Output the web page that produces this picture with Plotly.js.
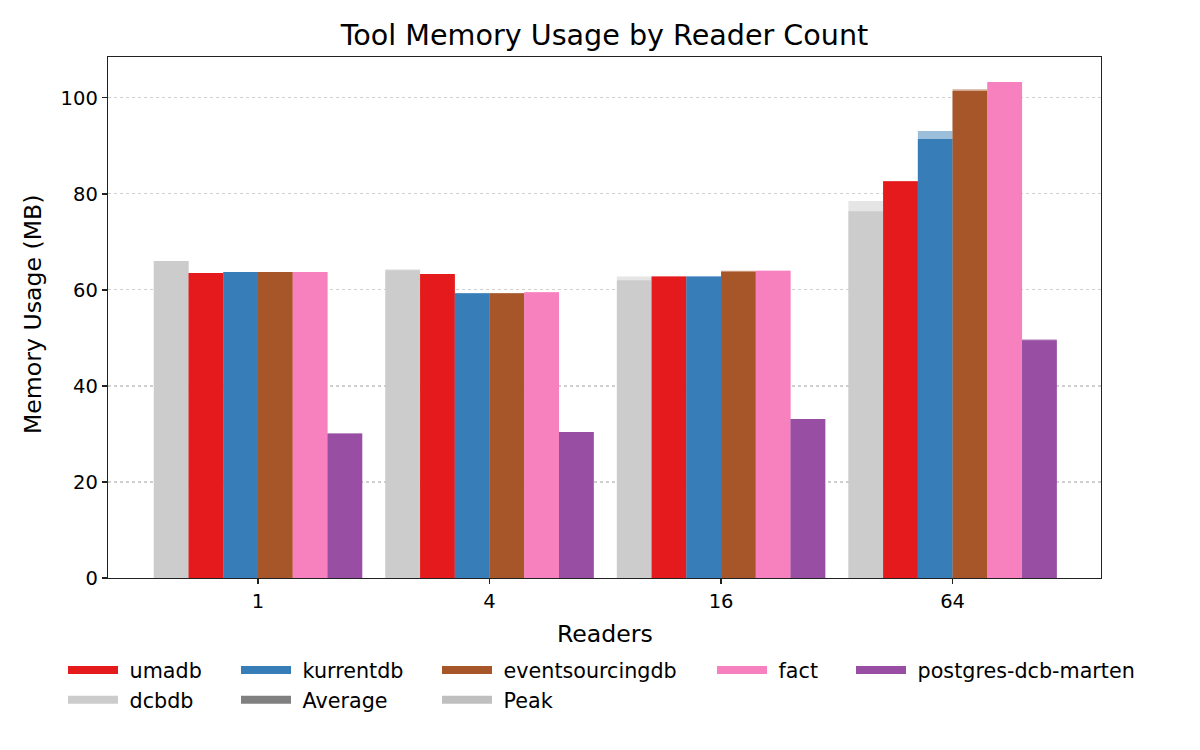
<!DOCTYPE html>
<html>
<head>
<meta charset="utf-8">
<script src="https://cdn.plot.ly/plotly-3.0.1.min.js"></script>
<style>
  body { margin: 0; background: #fff; }
  #chart { width: 1200px; height: 750px; }
</style>
</head>
<body>
<div id="chart"></div>
<script>
// Reader counts (x categories)
const readers = ["1", "4", "16", "64"];

// Tools, in bar order inside each group
const tools = ["dcbdb", "umadb", "kurrentdb", "eventsourcingdb", "fact", "postgres-dcb-marten"];
const toolColors = ["#cccccc", "#e41a1c", "#377eb8", "#a65628", "#f781bf", "#984ea3"];

// Memory usage in MB: average and peak per reader count
const dcbdbAvg = [66.0, 64.1, 62.0, 76.4];
const dcbdbPeak = [66.0, 64.3, 62.8, 78.5];
const umadbAvg = [63.5, 63.3, 62.8, 82.6];
const umadbPeak = [63.5, 63.3, 62.8, 82.6];
const kurrentdbAvg = [63.7, 59.3, 62.8, 91.4];
const kurrentdbPeak = [63.7, 59.3, 62.8, 93.1];
const eventsourcingdbAvg = [63.7, 59.3, 63.8, 101.4];
const eventsourcingdbPeak = [63.7, 59.3, 64.0, 101.8];
const factAvg = [63.7, 59.5, 64.0, 103.3];
const factPeak = [63.7, 59.5, 64.0, 103.3];
const postgresAvg = [30.1, 30.4, 33.1, 49.5];
const postgresPeak = [30.1, 30.4, 33.1, 49.7];

const avgValues = [dcbdbAvg, umadbAvg, kurrentdbAvg, eventsourcingdbAvg, factAvg, postgresAvg];
const peakValues = [dcbdbPeak, umadbPeak, kurrentdbPeak, eventsourcingdbPeak, factPeak, postgresPeak];

// Legend layout like matplotlib's 5 columns: one small legend per column
const legendColumns = [
  ["umadb", "dcbdb"],
  ["kurrentdb", "Average"],
  ["eventsourcingdb", "Peak"],
  ["fact"],
  ["postgres-dcb-marten"]
];
const legendX = [63, 236, 437, 712, 851];

const FONT = "DejaVu Sans, Liberation Sans, sans-serif";
const BAR_W = 0.15;

// plot area in pixels (used to place axis titles)
const PLOT = { l: 108, r: 1101, t: 57, b: 578 };

// rgba of a hex colour with alpha
const fade = (hex, a) => {
  const r = parseInt(hex.slice(1, 3), 16);
  const g = parseInt(hex.slice(3, 5), 16);
  const b = parseInt(hex.slice(5, 7), 16);
  return `rgba(${r},${g},${b},${a})`;
};

const data = [];

// Peak bars first (faded, behind), then averages on top
for (let i = 0; i < tools.length; i++) {
  data.push({
    type: "bar",
    x: readers,
    y: peakValues[i],
    width: BAR_W,
    offset: -0.45 + i * BAR_W,
    marker: { color: fade(toolColors[i], 0.5), line: { width: 0 } },
    showlegend: false,
    hoverinfo: "skip"
  });
}
for (let i = 0; i < tools.length; i++) {
  data.push({
    type: "bar",
    x: readers,
    y: avgValues[i],
    width: BAR_W,
    offset: -0.45 + i * BAR_W,
    marker: { color: toolColors[i], line: { width: 0 } },
    name: tools[i],
    showlegend: false
  });
}

// Legend proxies
const legendColor = name => {
  if (name === "Average") return "#808080";
  if (name === "Peak") return "#bfbfbf";
  return toolColors[tools.indexOf(name)];
};
const layoutLegends = {};
legendColumns.forEach((col, c) => {
  const key = c === 0 ? "legend" : `legend${c + 1}`;
  col.forEach(name => {
    data.push({
      type: "scatter",
      mode: "lines",
      x: [null],
      y: [null],
      name: "\u00a0" + name,
      legend: key,
      line: { color: legendColor(name), width: 8 },
      hoverinfo: "skip"
    });
  });
  layoutLegends[key] = {
    xref: "container",
    yref: "container",
    x: legendX[c] / 1200,
    y: 1 - 650 / 750,
    xanchor: "left",
    yanchor: "top",
    orientation: "v",
    itemwidth: 50,
    bgcolor: "rgba(0,0,0,0)",
    font: { family: FONT, size: 20.7, color: "#000" },
    tracegroupgap: 0
  };
});

const plotW = PLOT.r - PLOT.l;
const plotH = PLOT.b - PLOT.t;

const layout = Object.assign({
  width: 1200,
  height: 750,
  paper_bgcolor: "#fff",
  plot_bgcolor: "#fff",
  margin: { l: PLOT.l, r: 1200 - PLOT.r, t: PLOT.t, b: 750 - PLOT.b, autoexpand: false },
  barmode: "overlay",
  font: { family: FONT, color: "#000" },
  title: {
    text: "Tool Memory Usage by Reader Count",
    font: { family: FONT, size: 28.6, color: "#000" },
    xref: "paper",
    x: 0.5,
    yref: "container",
    y: 1 - 35 / 750,
    yanchor: "middle"
  },
  xaxis: {
    type: "category",
    range: [-0.648, 3.641],
    showgrid: false,
    showline: true,
    mirror: true,
    linecolor: "#222",
    linewidth: 1.3,
    ticks: "outside",
    ticklen: 5,
    tickwidth: 1.3,
    tickcolor: "#222",
    tickfont: { family: FONT, size: 19.5, color: "#000" },
    zeroline: false
  },
  yaxis: {
    range: [0, 108.5],
    tickvals: [0, 20, 40, 60, 80, 100],
    showgrid: true,
    gridcolor: "#cfcfcf",
    griddash: "dot",
    gridwidth: 1.2,
    showline: true,
    mirror: true,
    linecolor: "#222",
    linewidth: 1.3,
    ticks: "outside",
    ticklen: 5,
    tickwidth: 1.3,
    tickcolor: "#222",
    tickfont: { family: FONT, size: 19.5, color: "#000" },
    zeroline: false
  },
  // axis titles
  annotations: [
    {
      text: "Readers",
      xref: "paper",
      yref: "paper",
      x: 0.5,
      y: (PLOT.b - 634) / plotH,
      xanchor: "center",
      yanchor: "middle",
      showarrow: false,
      font: { family: FONT, size: 23.6, color: "#000" }
    },
    {
      text: "Memory Usage (MB)",
      xref: "paper",
      yref: "paper",
      x: (33 - PLOT.l) / plotW,
      y: (PLOT.b - 315) / plotH,
      xanchor: "center",
      yanchor: "middle",
      textangle: -90,
      showarrow: false,
      font: { family: FONT, size: 23.6, color: "#000" }
    }
  ]
}, layoutLegends);

Plotly.newPlot("chart", data, layout, { displayModeBar: false, staticPlot: true });
</script>
</body>
</html>
